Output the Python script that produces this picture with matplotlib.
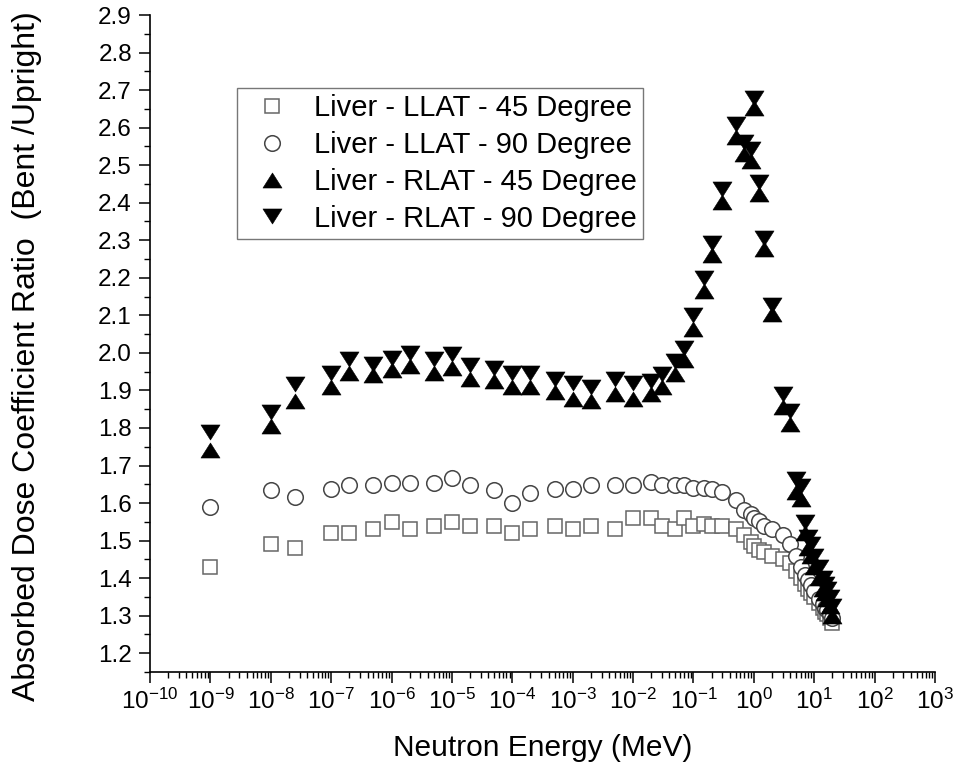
import numpy as np
import matplotlib
matplotlib.use('Agg')
import matplotlib.pyplot as plt
from matplotlib.path import Path
from matplotlib.ticker import FixedLocator, LogLocator, NullFormatter, FuncFormatter, MultipleLocator

energy = [1e-9, 1e-8, 2.5e-8, 1e-7, 2e-7, 5e-7, 1e-6, 2e-6, 5e-6, 1e-5, 2e-5, 5e-5,
          1e-4, 2e-4, 5e-4, 1e-3, 2e-3, 5e-3, 1e-2, 2e-2, 3e-2, 5e-2, 7e-2, 0.1,
          0.15, 0.2, 0.3, 0.5, 0.7, 0.9, 1.0, 1.2, 1.5, 2, 3, 4, 5, 6, 7, 8, 9, 10,
          12, 14, 15, 16, 18, 20]

llat45 = [1.43, 1.49, 1.48, 1.52, 1.52, 1.53, 1.55, 1.53, 1.54, 1.55, 1.54, 1.54,
          1.52, 1.53, 1.54, 1.53, 1.54, 1.53, 1.56, 1.56, 1.54, 1.53, 1.56, 1.54,
          1.545, 1.54, 1.54, 1.53, 1.515, 1.495, 1.485, 1.475, 1.47, 1.46, 1.45, 1.44,
          1.42, 1.40, 1.385, 1.37, 1.36, 1.35, 1.335, 1.32, 1.31, 1.305, 1.295, 1.28]

llat90 = [1.59, 1.636, 1.617, 1.637, 1.647, 1.647, 1.654, 1.654, 1.654, 1.667, 1.647, 1.636,
          1.599, 1.628, 1.637, 1.637, 1.647, 1.647, 1.647, 1.656, 1.647, 1.647, 1.647, 1.64,
          1.64, 1.637, 1.63, 1.607, 1.581, 1.572, 1.56, 1.553, 1.54, 1.53, 1.515, 1.49,
          1.458, 1.431, 1.408, 1.395, 1.382, 1.365, 1.345, 1.33, 1.32, 1.315, 1.305, 1.295]

rlat45 = [1.74, 1.805, 1.873, 1.910, 1.947, 1.942, 1.954, 1.965, 1.947, 1.960, 1.930, 1.926,
          1.910, 1.910, 1.896, 1.877, 1.871, 1.891, 1.877, 1.89, 1.908, 1.944, 1.981, 2.063,
          2.165, 2.260, 2.403, 2.576, 2.530, 2.510, 2.651, 2.424, 2.278, 2.104, 1.855, 1.81,
          1.63, 1.61, 1.52, 1.48, 1.46, 1.43, 1.40, 1.37, 1.36, 1.345, 1.325, 1.30]

rlat90 = [1.79, 1.843, 1.916, 1.947, 1.984, 1.970, 1.986, 1.999, 1.984, 1.997, 1.967, 1.960,
          1.947, 1.947, 1.931, 1.919, 1.910, 1.930, 1.919, 1.926, 1.945, 1.978, 2.013, 2.100,
          2.199, 2.294, 2.437, 2.610, 2.562, 2.544, 2.680, 2.456, 2.306, 2.128, 1.89, 1.845,
          1.665, 1.645, 1.55, 1.51, 1.49, 1.46, 1.43, 1.40, 1.385, 1.37, 1.35, 1.325]

labels = ["Liver - LLAT - 45 Degree", "Liver - LLAT - 90 Degree",
          "Liver - RLAT - 45 Degree", "Liver - RLAT - 90 Degree"]

plt.rcParams['font.family'] = ['Liberation Sans', 'DejaVu Sans']
plt.rcParams['mathtext.fontset'] = 'custom'
plt.rcParams['mathtext.rm'] = 'Liberation Sans'
plt.rcParams['mathtext.it'] = 'Liberation Sans:italic'
plt.rcParams['mathtext.bf'] = 'Liberation Sans:bold'

fig = plt.figure(figsize=(9.58, 7.77), dpi=100)
ax = fig.add_axes([150/958, 1-672/777, 785/958, 657/777])

codes = [Path.MOVETO, Path.LINETO, Path.LINETO, Path.CLOSEPOLY]
tri_up = Path([(-1, -0.79), (1, -0.79), (0, 0.79), (-1, -0.79)], codes)
tri_down = Path([(-1, 0.79), (1, 0.79), (0, -0.79), (-1, 0.79)], codes)

ax.plot(energy, llat45, ls='none', marker='s', ms=9.4, mfc='white', mec='#666666', mew=1.1, label=labels[0])
ax.plot(energy, llat90, ls='none', marker='o', ms=11.2, mfc='white', mec='#444444', mew=1.1, label=labels[1])
ax.plot(energy, rlat45, ls='none', marker=tri_up, ms=13.7, mfc='black', mec='black', mew=0.4, label=labels[2])
ax.plot(energy, rlat90, ls='none', marker=tri_down, ms=13.7, mfc='black', mec='black', mew=0.4, label=labels[3])

ax.set_xscale('log')
ax.set_xlim(1e-10, 1e3)
ax.set_ylim(1.15, 2.9)

ax.xaxis.set_major_locator(FixedLocator(10.0 ** np.arange(-10, 4)))
ax.xaxis.set_major_formatter(FuncFormatter(lambda v, p: r'$\mathdefault{10^{%d}}$' % int(round(np.log10(v)))))
ax.xaxis.set_minor_locator(LogLocator(base=10, subs=np.arange(2, 10), numticks=100))
ax.xaxis.set_minor_formatter(NullFormatter())

ax.yaxis.set_major_locator(FixedLocator(np.round(np.arange(1.2, 2.91, 0.1), 2)))
ax.yaxis.set_major_formatter(FuncFormatter(lambda v, p: '%.1f' % v))
ax.yaxis.set_minor_locator(MultipleLocator(0.05))

for s in ['top', 'right']:
    ax.spines[s].set_visible(False)
for s in ['left', 'bottom']:
    ax.spines[s].set_linewidth(1.2)
    ax.spines[s].set_color('black')

ax.tick_params(axis='both', which='major', direction='out', length=8, width=1.1, colors='black')
ax.tick_params(axis='both', which='minor', direction='out', length=4.5, width=1.0)
ax.tick_params(axis='y', which='major', labelsize=17.5, pad=5)
ax.tick_params(axis='x', which='major', labelsize=17.5, pad=4)

ax.set_xlabel('Neutron Energy (MeV)', fontsize=21.5)
ax.xaxis.label.set_va('center')
ax.xaxis.set_label_coords(0.5006, (672-748)/657)

ax.set_ylabel('Absorbed Dose Coefficient Ratio  (Bent /Upright)', fontsize=23)
ax.yaxis.label.set_va('center')
ax.yaxis.set_label_coords((27-150)/785, (672-356)/657)

leg = ax.legend(loc='upper left', bbox_to_anchor=((237-150)/785, (672-88)/657),
                fontsize=21, frameon=True, fancybox=False, edgecolor='#555555',
                borderpad=0.22, handlelength=1.96, handletextpad=0.46, labelspacing=0.3,
                borderaxespad=0.0)
leg.get_frame().set_linewidth(1.0)

fig.savefig('out.png', dpi=100)
